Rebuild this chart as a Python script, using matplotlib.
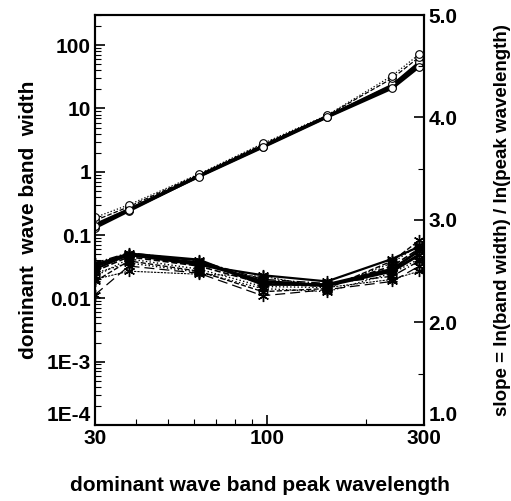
import matplotlib
matplotlib.use("Agg")
import matplotlib.pyplot as plt
from matplotlib.ticker import FixedLocator, NullFormatter, LogLocator, MultipleLocator

plt.rcParams['font.family'] = ['Liberation Sans', 'DejaVu Sans']
plt.rcParams['font.weight'] = 'bold'

# peak wavelength positions
wl = [30, 38, 62, 97, 152, 240, 290]

# band widths (left log axis)
bw_a = [0.13, 0.24, 0.85, 2.5, 7.4, 22, 48]
bw_b = [0.14, 0.25, 0.86, 2.55, 7.5, 23, 52]
bw_c = [0.15, 0.26, 0.88, 2.6, 7.6, 24, 55]
bw_d = [0.17, 0.28, 0.9, 2.7, 7.7, 30, 65]
bw_e = [0.19, 0.3, 0.92, 2.8, 7.8, 33, 72]
bw_f = [0.14, 0.25, 0.84, 2.45, 7.3, 21, 46]
bands = [bw_a, bw_b, bw_c, bw_d, bw_e, bw_f]

# slopes (right linear axis)
sl_a = [2.55, 2.66, 2.58, 2.40, 2.36, 2.50, 2.66]
sl_b = [2.50, 2.64, 2.55, 2.38, 2.35, 2.55, 2.72]
sl_c = [2.45, 2.62, 2.52, 2.35, 2.34, 2.58, 2.76]
sl_d = [2.58, 2.68, 2.60, 2.42, 2.38, 2.45, 2.60]
sl_e = [2.40, 2.60, 2.50, 2.30, 2.33, 2.60, 2.80]
sl_f = [2.27, 2.55, 2.48, 2.26, 2.32, 2.40, 2.55]
sl_g = [2.52, 2.66, 2.56, 2.46, 2.40, 2.62, 2.74]
sl_h = [2.48, 2.58, 2.49, 2.33, 2.30, 2.48, 2.62]
sl_i = [2.56, 2.67, 2.61, 2.37, 2.37, 2.52, 2.70]
sl_j = [2.42, 2.50, 2.47, 2.45, 2.34, 2.42, 2.50]
slopes = [sl_a, sl_b, sl_c, sl_d, sl_e, sl_f, sl_g, sl_h, sl_i, sl_j]

xticks = [30, 100, 300]
xticklabels = ['30', '100', '300']
yticks = [1e-4, 1e-3, 1e-2, 1e-1, 1, 10, 100]
yticklabels = ['1E-4', '1E-3', '0.01', '0.1', '1', '10', '100']
rticks = [1.0, 2.0, 3.0, 4.0, 5.0]
rticklabels = ['1.0', '2.0', '3.0', '4.0', '5.0']

fig = plt.figure(figsize=(5.11, 5.01), dpi=100)
ax = fig.add_axes([0.186, 0.152, 0.644, 0.818])
ax2 = ax.twinx()

band_styles = ['-', '-', '-', '--', ':', '-']
band_widths = [2.0, 1.6, 1.2, 0.9, 0.9, 2.2]
for v, ls, lw in zip(bands, band_styles, band_widths):
    ax.plot(wl, v, ls=ls, lw=lw, color='black', marker='o', ms=5.5,
            mfc='white', mec='black', mew=0.8, zorder=3)

slope_styles = ['-', '--', ':', '-.', '--', (0, (8, 4)), '-', ':', '-', (0, (2, 1))]
slope_widths = [2.2, 1.2, 1.0, 1.0, 1.0, 0.9, 1.6, 1.0, 2.0, 0.8]
for v, ls, lw in zip(slopes, slope_styles, slope_widths):
    ax2.plot(wl, v, ls=ls, lw=lw, color='black', marker=(6, 2, 0), ms=8,
             mew=1.0, mec='black')

ax.set_xscale('log')
ax.set_yscale('log')
ax.set_xlim(30, 300)
ax.set_ylim(1e-4, 300)
ax2.set_ylim(1.0, 5.0)

ax.xaxis.set_major_locator(FixedLocator(xticks))
ax.set_xticklabels(xticklabels)
ax.xaxis.set_minor_locator(LogLocator(base=10, subs=range(2, 10)))
ax.xaxis.set_minor_formatter(NullFormatter())
ax.yaxis.set_major_locator(FixedLocator(yticks))
ax.set_yticklabels(yticklabels)
ax.yaxis.set_minor_locator(LogLocator(base=10, subs=range(2, 10)))
ax.yaxis.set_minor_formatter(NullFormatter())
ax2.yaxis.set_major_locator(FixedLocator(rticks))
ax2.set_yticklabels(rticklabels)
ax2.yaxis.set_minor_locator(MultipleLocator(0.5))

for a in (ax, ax2):
    for s in a.spines.values():
        s.set_linewidth(1.5)
ax.tick_params(axis='both', which='major', direction='in', length=7, width=1.2,
               labelsize=15, pad=3)
ax.tick_params(axis='both', which='minor', direction='in', length=4, width=0.8)
ax.tick_params(axis='y', right=False)
ax2.tick_params(axis='y', which='major', direction='in', length=7, width=1.2,
                labelsize=15, pad=3)
ax2.tick_params(axis='y', which='minor', direction='in', length=4, width=0.8)

ax.set_xlabel('dominant wave band peak wavelength', fontsize=15,
              fontweight='bold', labelpad=20)
ax.set_ylabel('dominant  wave band  width', fontsize=15, fontweight='bold',
              labelpad=6)
ax2.set_ylabel('slope = ln(band width) / ln(peak wavelength)', fontsize=13.5,
               fontweight='bold', labelpad=26)

# bottom-most y labels sit just above the corner, as in the reference
ax.get_yticklabels()[0].set_va('bottom')
ax2.get_yticklabels()[0].set_va('bottom')

fig.savefig('out.png', dpi=100)
